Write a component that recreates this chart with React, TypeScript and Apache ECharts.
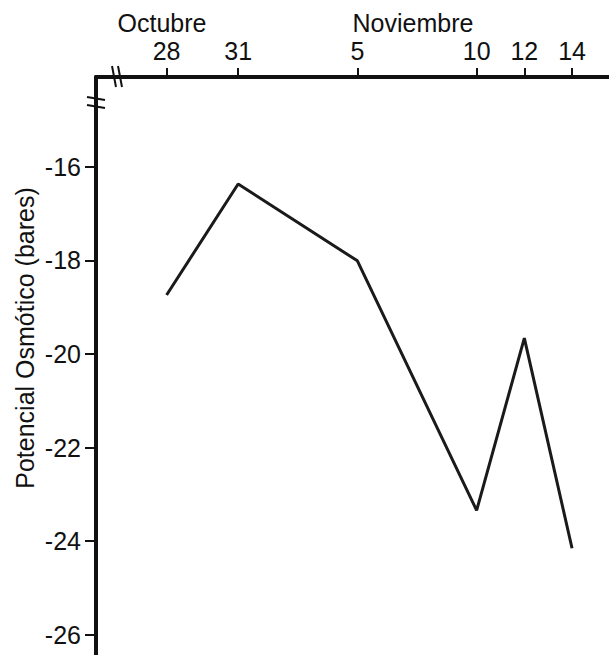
import React, { useEffect, useRef } from "react";
import * as echarts from "echarts";

// days counted from 28 October
const dayOffsets = [0, 3, 8, 13, 15, 17];
const dateLabels = ["28", "31", "5", "10", "12", "14"];
const osmoticPotential = [-18.74, -16.37, -18.01, -23.34, -19.66, -24.15];
const yTicks = [-16, -18, -20, -22, -24, -26];
const monthLabels = [
  { text: "Octubre", center: 162 },
  { text: "Noviembre", center: 413 },
];
const yAxisTitle = "Potencial Osmótico (bares)";

const FONT = "Liberation Sans, Arial, Helvetica, sans-serif";
const FS = 25;

export default function App() {
  const ref = useRef<HTMLDivElement>(null);
  useEffect(() => {
    if (!ref.current) return;
    const chart = echarts.init(ref.current, undefined, { renderer: "svg" });
    const xMin = -2.96;
    const xMax = 18.55;
    const gridLeft = 96;
    chart.setOption({
      animation: false,
      backgroundColor: "#fff",
      grid: {
        left: gridLeft,
        top: 77,
        right: 0,
        bottom: 0,
        containLabel: false,
        outerBoundsMode: "none",
      },
      xAxis: {
        type: "value",
        position: "top",
        min: xMin,
        max: xMax,
        splitLine: { show: false },
        axisLine: { show: true, onZero: false, lineStyle: { color: "#111", width: 4 } },
        axisTick: {
          show: true,
          customValues: dayOffsets,
          length: 9,
          inside: false,
          lineStyle: { color: "#111", width: 2 },
        },
        axisLabel: {
          customValues: dayOffsets,
          margin: 14,
          color: "#111",
          fontFamily: FONT,
          fontSize: FS,
          formatter: (v: number) => {
            const i = dayOffsets.indexOf(v);
            return i >= 0 ? dateLabels[i] : "";
          },
        },
      },
      yAxis: {
        type: "value",
        min: -26.43,
        max: -14.083,
        splitLine: { show: false },
        axisLine: { show: true, onZero: false, lineStyle: { color: "#111", width: 4 } },
        axisTick: {
          show: true,
          customValues: yTicks,
          length: 11,
          lineStyle: { color: "#111", width: 2 },
        },
        axisLabel: {
          customValues: yTicks,
          margin: 15,
          color: "#111",
          fontFamily: FONT,
          fontSize: FS,
        },
      },
      graphic: [
        ...monthLabels.map((m) => ({
          type: "text",
          x: m.center,
          y: 23,
          style: {
            text: m.text,
            fill: "#111",
            font: `${FS}px ${FONT}`,
            textAlign: "center",
            textVerticalAlign: "middle",
          },
        })),
        {
          type: "text",
          x: 25,
          y: 338,
          rotation: Math.PI / 2,
          style: {
            text: yAxisTitle,
            fill: "#111",
            font: `${FS}px ${FONT}`,
            textAlign: "center",
            textVerticalAlign: "middle",
          },
        },
        {
          type: "line",
          shape: { x1: 112, y1: 66, x2: 116, y2: 87 },
          style: { stroke: "#111", lineWidth: 2 },
        },
        {
          type: "line",
          shape: { x1: 118, y1: 66, x2: 122, y2: 87 },
          style: { stroke: "#111", lineWidth: 2 },
        },
        {
          type: "line",
          shape: { x1: 87, y1: 97, x2: 105, y2: 100 },
          style: { stroke: "#111", lineWidth: 2 },
        },
        {
          type: "line",
          shape: { x1: 87, y1: 105, x2: 105, y2: 108 },
          style: { stroke: "#111", lineWidth: 2 },
        },
      ],
      series: [
        {
          type: "line",
          data: dayOffsets.map((d, i) => [d, osmoticPotential[i]]),
          showSymbol: false,
          lineStyle: { color: "#1a1a1a", width: 3 },
        },
      ],
    });
    return () => chart.dispose();
  }, []);
  return (
    <div
      ref={ref}
      style={{ position: "absolute", left: 0, top: 0, width: 609, height: 655 }}
    />
  );
}
